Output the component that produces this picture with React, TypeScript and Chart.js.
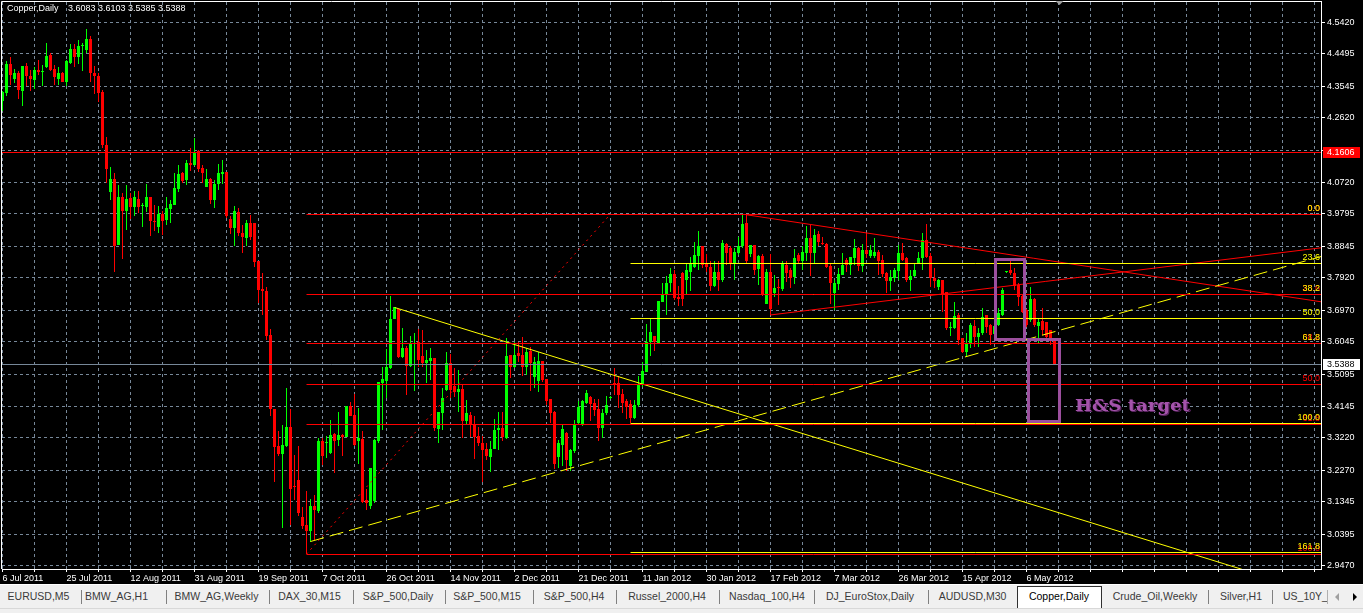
import React, { useEffect, useRef } from 'react';
import { Chart, registerables } from 'chart.js';

Chart.register(...registerables);

// ---------------- data ----------------
const symbol = 'Copper,Daily';

const opens = [
  4.312, 4.334, 4.420, 4.376, 4.394, 4.339, 4.414, 4.385, 4.373, 4.402,
  4.396, 4.412, 4.445, 4.405, 4.376, 4.392, 4.368, 4.424, 4.464, 4.439,
  4.471, 4.461, 4.493, 4.394, 4.385, 4.336, 4.182, 4.045, 4.082, 3.889,
  4.030, 3.987, 4.026, 4.001, 4.024, 4.003, 4.001, 4.030, 3.960, 3.942,
  3.978, 3.962, 3.994, 4.006, 4.052, 4.101, 4.079, 4.130, 4.123, 4.165,
  4.115, 4.060, 4.082, 4.021, 4.066, 4.097, 4.104, 3.964, 3.939, 3.986,
  3.925, 3.910, 3.954, 3.954, 3.840, 3.758, 3.753, 3.624, 3.406, 3.299,
  3.275, 3.299, 3.355, 3.180, 3.199, 3.091, 3.067, 3.050, 3.123, 3.109,
  3.314, 3.308, 3.279, 3.333, 3.316, 3.331, 3.326, 3.416, 3.390, 3.314,
  3.318, 3.140, 3.123, 3.137, 3.313, 3.482, 3.490, 3.527, 3.670, 3.701,
  3.561, 3.587, 3.534, 3.597, 3.603, 3.563, 3.543, 3.548, 3.556, 3.349,
  3.396, 3.463, 3.541, 3.475, 3.458, 3.466, 3.373, 3.388, 3.363, 3.328,
  3.308, 3.290, 3.267, 3.289, 3.344, 3.352, 3.321, 3.565, 3.529, 3.570,
  3.565, 3.529, 3.576, 3.500, 3.489, 3.548, 3.495, 3.436, 3.399, 3.267,
  3.302, 3.336, 3.240, 3.285, 3.365, 3.363, 3.424, 3.443, 3.424, 3.406,
  3.351, 3.394, 3.440, 3.484, 3.484, 3.451, 3.429, 3.422, 3.380, 3.419,
  3.478, 3.517, 3.605, 3.620, 3.600, 3.722, 3.742, 3.776, 3.803, 3.737,
  3.805, 3.786, 3.810, 3.825, 3.856, 3.884, 3.835, 3.825, 3.768, 3.810,
  3.786, 3.890, 3.879, 3.833, 3.864, 3.884, 3.952, 3.862, 3.888, 3.817,
  3.856, 3.715, 3.810, 3.747, 3.764, 3.758, 3.830, 3.815, 3.794, 3.859,
  3.842, 3.864, 3.908, 3.866, 3.921, 3.893, 3.891, 3.827, 3.747, 3.774,
  3.800, 3.844, 3.830, 3.849, 3.879, 3.827, 3.874, 3.856, 3.856, 3.869,
  3.844, 3.805, 3.784, 3.791, 3.813, 3.866, 3.851, 3.786, 3.796, 3.835,
  3.849, 3.903, 3.856, 3.791, 3.766, 3.786, 3.749, 3.644, 3.644, 3.683,
  3.615, 3.573, 3.600, 3.651, 3.619, 3.629, 3.683, 3.654, 3.627, 3.654,
  3.683, 3.808, 3.815, 3.807, 3.771, 3.739, 3.698, 3.668, 3.729, 3.651,
  3.664, 3.661, 3.639, 3.6083,
];
const highs = [
  4.339, 4.429, 4.439, 4.405, 4.400, 4.414, 4.424, 4.402, 4.412, 4.431,
  4.417, 4.482, 4.451, 4.417, 4.412, 4.395, 4.431, 4.477, 4.477, 4.490,
  4.482, 4.522, 4.503, 4.415, 4.392, 4.342, 4.204, 4.116, 4.099, 4.065,
  4.042, 4.063, 4.042, 4.047, 4.047, 4.013, 4.068, 4.030, 4.006, 4.003,
  3.989, 4.030, 4.020, 4.101, 4.123, 4.104, 4.138, 4.172, 4.201, 4.167,
  4.123, 4.111, 4.086, 4.079, 4.126, 4.138, 4.104, 3.974, 4.003, 3.996,
  3.947, 3.962, 3.977, 3.954, 3.840, 3.805, 3.764, 3.641, 3.406, 3.343,
  3.360, 3.470, 3.407, 3.272, 3.299, 3.118, 3.165, 3.142, 3.155, 3.321,
  3.321, 3.328, 3.375, 3.336, 3.399, 3.333, 3.416, 3.428, 3.451, 3.411,
  3.343, 3.172, 3.235, 3.318, 3.487, 3.529, 3.583, 3.739, 3.705, 3.701,
  3.644, 3.593, 3.621, 3.629, 3.641, 3.639, 3.580, 3.587, 3.556, 3.397,
  3.468, 3.573, 3.569, 3.527, 3.520, 3.478, 3.432, 3.399, 3.385, 3.355,
  3.328, 3.306, 3.313, 3.377, 3.398, 3.397, 3.615, 3.565, 3.603, 3.603,
  3.617, 3.585, 3.590, 3.560, 3.575, 3.548, 3.495, 3.436, 3.401, 3.316,
  3.360, 3.338, 3.290, 3.375, 3.429, 3.434, 3.463, 3.444, 3.436, 3.436,
  3.406, 3.445, 3.446, 3.527, 3.504, 3.465, 3.436, 3.432, 3.434, 3.504,
  3.546, 3.657, 3.673, 3.622, 3.724, 3.776, 3.796, 3.820, 3.815, 3.768,
  3.810, 3.832, 3.854, 3.898, 3.928, 3.884, 3.861, 3.840, 3.840, 3.840,
  3.903, 3.893, 3.884, 3.879, 3.913, 3.977, 3.975, 3.888, 3.888, 3.859,
  3.862, 3.817, 3.862, 3.800, 3.788, 3.840, 3.840, 3.820, 3.876, 3.864,
  3.884, 3.944, 3.947, 3.934, 3.930, 3.913, 3.893, 3.835, 3.786, 3.820,
  3.866, 3.849, 3.854, 3.905, 3.882, 3.891, 3.925, 3.888, 3.908, 3.874,
  3.859, 3.810, 3.815, 3.820, 3.888, 3.893, 3.854, 3.815, 3.835, 3.869,
  3.923, 3.950, 3.864, 3.820, 3.788, 3.786, 3.749, 3.663, 3.722, 3.688,
  3.615, 3.631, 3.659, 3.668, 3.644, 3.703, 3.683, 3.657, 3.660, 3.703,
  3.761, 3.812, 3.844, 3.820, 3.776, 3.742, 3.700, 3.764, 3.732, 3.673,
  3.703, 3.661, 3.639, 3.6103,
];
const lows = [
  4.283, 4.326, 4.358, 4.363, 4.317, 4.297, 4.356, 4.339, 4.345, 4.387,
  4.356, 4.407, 4.400, 4.358, 4.358, 4.366, 4.355, 4.419, 4.412, 4.420,
  4.399, 4.453, 4.368, 4.332, 4.309, 4.172, 4.070, 4.021, 3.808, 3.889,
  3.847, 3.931, 3.964, 3.972, 3.982, 3.940, 3.984, 3.916, 3.928, 3.925,
  3.918, 3.947, 3.954, 4.006, 4.045, 4.069, 4.063, 4.107, 4.120, 4.104,
  4.069, 4.060, 4.009, 3.998, 4.050, 4.067, 3.967, 3.921, 3.884, 3.915,
  3.866, 3.886, 3.903, 3.823, 3.719, 3.683, 3.610, 3.385, 3.194, 3.269,
  3.057, 3.294, 3.067, 3.140, 3.093, 3.054, 2.981, 3.018, 3.023, 3.103,
  3.243, 3.263, 3.276, 3.218, 3.297, 3.270, 3.326, 3.385, 3.299, 3.245,
  3.130, 3.111, 3.113, 3.130, 3.306, 3.346, 3.439, 3.524, 3.670, 3.556,
  3.556, 3.448, 3.529, 3.461, 3.531, 3.531, 3.482, 3.492, 3.341, 3.306,
  3.346, 3.461, 3.439, 3.443, 3.399, 3.321, 3.360, 3.326, 3.261, 3.297,
  3.194, 3.258, 3.223, 3.289, 3.287, 3.313, 3.318, 3.499, 3.527, 3.546,
  3.505, 3.507, 3.461, 3.470, 3.458, 3.487, 3.419, 3.367, 3.232, 3.235,
  3.240, 3.225, 3.225, 3.277, 3.360, 3.357, 3.422, 3.373, 3.387, 3.314,
  3.321, 3.390, 3.436, 3.448, 3.409, 3.395, 3.377, 3.367, 3.377, 3.414,
  3.473, 3.517, 3.563, 3.578, 3.600, 3.722, 3.683, 3.751, 3.727, 3.708,
  3.708, 3.745, 3.752, 3.820, 3.815, 3.820, 3.810, 3.754, 3.764, 3.754,
  3.781, 3.830, 3.815, 3.786, 3.859, 3.879, 3.835, 3.854, 3.800, 3.771,
  3.739, 3.715, 3.683, 3.737, 3.712, 3.752, 3.781, 3.761, 3.774, 3.835,
  3.815, 3.840, 3.798, 3.835, 3.884, 3.888, 3.820, 3.715, 3.698, 3.756,
  3.799, 3.810, 3.800, 3.830, 3.813, 3.810, 3.849, 3.849, 3.849, 3.800,
  3.794, 3.747, 3.754, 3.781, 3.786, 3.840, 3.781, 3.752, 3.794, 3.835,
  3.815, 3.849, 3.766, 3.761, 3.756, 3.693, 3.639, 3.620, 3.641, 3.595,
  3.571, 3.561, 3.585, 3.590, 3.588, 3.624, 3.629, 3.595, 3.620, 3.651,
  3.680, 3.806, 3.800, 3.756, 3.710, 3.690, 3.649, 3.663, 3.647, 3.602,
  3.624, 3.615, 3.595, 3.5385,
];
const closes = [
  4.336, 4.420, 4.387, 4.394, 4.342, 4.414, 4.383, 4.376, 4.402, 4.395,
  4.399, 4.443, 4.402, 4.380, 4.392, 4.368, 4.427, 4.464, 4.439, 4.473,
  4.474, 4.493, 4.394, 4.383, 4.334, 4.182, 4.112, 4.082, 3.886, 4.030,
  3.987, 4.024, 4.001, 4.028, 4.001, 4.006, 4.030, 3.960, 3.957, 3.980,
  3.960, 3.998, 4.009, 4.055, 4.097, 4.077, 4.130, 4.123, 4.159, 4.111,
  4.099, 4.082, 4.021, 4.067, 4.101, 4.104, 3.974, 3.939, 3.988, 3.923,
  3.911, 3.954, 3.911, 3.837, 3.757, 3.752, 3.620, 3.406, 3.294, 3.275,
  3.302, 3.355, 3.172, 3.177, 3.103, 3.064, 3.050, 3.121, 3.111, 3.314,
  3.270, 3.311, 3.331, 3.314, 3.331, 3.326, 3.416, 3.387, 3.300, 3.321,
  3.135, 3.130, 3.235, 3.316, 3.487, 3.494, 3.529, 3.671, 3.705, 3.559,
  3.585, 3.533, 3.598, 3.598, 3.551, 3.541, 3.551, 3.558, 3.350, 3.397,
  3.438, 3.543, 3.463, 3.458, 3.466, 3.373, 3.394, 3.360, 3.326, 3.307,
  3.287, 3.269, 3.290, 3.346, 3.352, 3.326, 3.563, 3.529, 3.565, 3.563,
  3.529, 3.575, 3.541, 3.545, 3.548, 3.492, 3.431, 3.396, 3.245, 3.308,
  3.348, 3.258, 3.287, 3.360, 3.414, 3.429, 3.455, 3.422, 3.404, 3.351,
  3.396, 3.419, 3.442, 3.481, 3.448, 3.424, 3.412, 3.380, 3.419, 3.478,
  3.519, 3.605, 3.634, 3.604, 3.724, 3.744, 3.776, 3.803, 3.732, 3.730,
  3.730, 3.815, 3.835, 3.859, 3.884, 3.830, 3.823, 3.768, 3.810, 3.786,
  3.893, 3.864, 3.835, 3.869, 3.884, 3.950, 3.842, 3.888, 3.815, 3.856,
  3.742, 3.810, 3.700, 3.763, 3.761, 3.833, 3.807, 3.791, 3.849, 3.840,
  3.869, 3.908, 3.864, 3.918, 3.898, 3.890, 3.825, 3.776, 3.776, 3.803,
  3.830, 3.830, 3.852, 3.879, 3.827, 3.874, 3.862, 3.874, 3.869, 3.842,
  3.803, 3.784, 3.794, 3.815, 3.866, 3.844, 3.786, 3.798, 3.815, 3.851,
  3.903, 3.854, 3.791, 3.783, 3.786, 3.742, 3.644, 3.649, 3.680, 3.610,
  3.573, 3.600, 3.654, 3.619, 3.631, 3.676, 3.649, 3.624, 3.651, 3.688,
  3.757, 3.811, 3.805, 3.768, 3.737, 3.693, 3.654, 3.729, 3.654, 3.661,
  3.639, 3.619, 3.610, 3.5388,
];

const dateLabels = [
  '6 Jul 2011', '25 Jul 2011', '12 Aug 2011', '31 Aug 2011', '19 Sep 2011',
  '7 Oct 2011', '26 Oct 2011', '14 Nov 2011', '2 Dec 2011', '21 Dec 2011',
  '11 Jan 2012', '30 Jan 2012', '17 Feb 2012', '7 Mar 2012', '26 Mar 2012',
  '15 Apr 2012', '6 May 2012',
];
const barsPerDateLabel = 16;
const barsPerGridLine = 8;

const priceTicks = [
  4.5420, 4.4495, 4.3545, 4.2620, 4.1670, 4.0720, 3.9795, 3.8845, 3.7920,
  3.6970, 3.6045, 3.5095, 3.4145, 3.3220, 3.2270, 3.1345, 3.0395, 2.9470,
];

const resistanceLevel = 4.1606;
const bidPrice = closes[closes.length - 1];

// fibonacci tools: [bar, price] anchors (low, high)
const redFibLow = [76, 2.981];
const redFibHigh = [152, 3.979];
const redFibLevels = [0, 23.6, 38.2, 50, 61.8, 100];
const yellowFibLow = [157, 3.365];
const yellowFibHigh = [186, 3.979];
const yellowFibLevels = [0, 23.6, 38.2, 50, 61.8, 100, 161.8];

// trend lines: two [bar, price] anchors each, extended to the right
const downTrend = [[98, 3.705], [184, 3.393]];
const upTrendDashed = [[77, 3.018], [241, 3.561]];
const triangleTop = [[186, 3.977], [231, 3.897]];
const triangleBottom = [[192, 3.683], [236, 3.746]];

// head & shoulders measured move
const hsHeadBars = [248, 255.3];
const hsTargetBars = [256.25, 264.1];
const hsHead = 3.847;
const hsNeckline = 3.611;
const hsTarget = 3.373;
const hsLabel = 'H&S target';
const hsLabelAnchor = [268.1, 3.401];

const tabNames = [
  'EURUSD,M5', 'BMW_AG,H1', 'BMW_AG,Weekly', 'DAX_30,M15', 'S&P_500,Daily',
  'S&P_500,M15', 'S&P_500,H4', 'Russel_2000,H4', 'Nasdaq_100,H4',
  'DJ_EuroStox,Daily', 'AUDUSD,M30', 'Copper,Daily', 'Crude_Oil,Weekly',
  'Silver,H1', 'US_10Y_',
];
const activeTab = 'Copper,Daily';

// ---------------- layout / style ----------------
const W = 1363;
const CANVAS_H = 584;
const X_MIN = -0.125;
const X_MAX = 329.625;
const Y_MIN = 2.93733;
const Y_MAX = 4.60158;
const FONT = '"Liberation Sans", Arial, sans-serif';
const UP = '#00ff00';
const DOWN = '#ff0000';
const RED = '#ff0000';
const YELLOW = '#ffff00';
const GRID = '#778899';
const PURPLE = '#9c4f9e';

const tabCenters = [38.5, 116.5, 216.5, 309.5, 398, 487, 574, 667, 767, 870, 972.5, 1059, 1155, 1241];
const tabSeparators = [81, 166, 269, 353, 445, 533, 616, 719, 814, 928, 1208, 1272];

const candleColors = closes.map((c, i) => (c >= opens[i] ? UP : DOWN));

function ray(anchors: number[][], xEnd: number) {
  const [[xa, ya], [xb, yb]] = anchors;
  return [
    { x: xa, y: ya },
    { x: xEnd, y: ya + ((yb - ya) * (xEnd - xa)) / (xb - xa) },
  ];
}
function hline(x0: number, p: number) {
  return [{ x: x0, y: p }, { x: X_MAX, y: p }];
}
function fibPrice(low: number, high: number, lvl: number) {
  return high - ((high - low) * lvl) / 100;
}

function lineDs(data: any[], color: string, dash: number[] = [], flat = true) {
  return {
    type: 'line' as const,
    data,
    borderColor: color,
    borderWidth: 1,
    borderDash: dash,
    pointRadius: 0,
    fill: false,
    tension: 0,
    order: 0,
    snapFlat: flat,
  };
}

const overlayPlugin = {
  id: 'mt4Overlay',
  beforeDraw(chart: any) {
    const { ctx, width, height } = chart;
    ctx.save();
    ctx.fillStyle = '#000';
    ctx.fillRect(0, 0, width, height);
    ctx.restore();
  },
  beforeDatasetsDraw(chart: any) {
    // snap marks to the pixel grid so 1px lines and candle edges stay crisp
    chart.data.datasets.forEach((ds: any, i: number) => {
      const meta = chart.getDatasetMeta(i);
      if (meta.type === 'line' && ds.snapFlat) {
        meta.data.forEach((pt: any) => {
          pt.y = Math.floor(pt.y) + 0.5;
        });
      } else if (meta.type === 'bar') {
        meta.data.forEach((b: any) => {
          let top = Math.round(b.y);
          let base = Math.round(b.base);
          if (top === base) base = top + 1;
          b.y = top;
          b.base = base;
        });
      }
    });
  },
  afterDatasetsDraw(chart: any) {
    const { ctx, chartArea: a, scales } = chart;
    const xs = scales.x;
    const ys = scales.y;
    ctx.save();
    // fib labels
    ctx.font = `9px ${FONT}`;
    ctx.textAlign = 'right';
    ctx.textBaseline = 'bottom';
    ctx.fillStyle = RED;
    redFibLevels.forEach((l) => {
      const py = Math.floor(ys.getPixelForValue(fibPrice(redFibLow[1], redFibHigh[1], l)));
      ctx.fillText(l.toFixed(1), a.right - 1, py - 1);
    });
    ctx.fillStyle = YELLOW;
    yellowFibLevels.forEach((l) => {
      const py = Math.floor(ys.getPixelForValue(fibPrice(yellowFibLow[1], yellowFibHigh[1], l)));
      ctx.fillText(l.toFixed(1), a.right - 1, py - 1);
    });

    // H&S rectangles
    ctx.strokeStyle = PURPLE;
    ctx.lineWidth = 3;
    const rect = (bx: number[], top: number, bottom: number) => {
      const x0 = Math.round(xs.getPixelForValue(bx[0])) + 0.5;
      const x1 = Math.round(xs.getPixelForValue(bx[1])) + 0.5;
      const y0 = Math.round(ys.getPixelForValue(top)) + 0.5;
      const y1 = Math.round(ys.getPixelForValue(bottom)) + 0.5;
      ctx.strokeRect(x0, y0, x1 - x0, y1 - y0);
    };
    rect(hsHeadBars, hsHead, hsNeckline);
    rect(hsTargetBars, hsNeckline, hsTarget);

    // H&S text
    ctx.font = `bold 16px "DejaVu Serif", serif`;
    ctx.textAlign = 'left';
    ctx.textBaseline = 'alphabetic';
    const tw = ctx.measureText(hsLabel).width;
    const tx = xs.getPixelForValue(hsLabelAnchor[0]);
    const ty = ys.getPixelForValue(hsLabelAnchor[1]);
    ctx.save();
    ctx.translate(tx, ty);
    ctx.scale(115 / tw, 1);
    ctx.fillStyle = '#5a2560';
    ctx.fillText(hsLabel, 1, 1);
    ctx.fillStyle = '#a453ab';
    ctx.fillText(hsLabel, 0, 0);
    ctx.restore();
    ctx.restore();
  },
  afterDraw(chart: any) {
    const { ctx, chartArea: a, scales } = chart;
    const xs = scales.x;
    const ys = scales.y;
    ctx.save();
    // frame top / left
    ctx.strokeStyle = '#ffffff';
    ctx.lineWidth = 1;
    ctx.beginPath();
    ctx.moveTo(1.5, a.bottom);
    ctx.lineTo(1.5, 1.5);
    ctx.lineTo(a.right + 1, 1.5);
    ctx.stroke();

    // price boxes on axis
    const box = (p: number, bg: string, fg: string) => {
      const py = Math.round(ys.getPixelForValue(p));
      ctx.fillStyle = bg;
      ctx.fillRect(a.right + 2, py - 5, 37, 11);
      ctx.fillStyle = fg;
      ctx.font = `9px ${FONT}`;
      ctx.textAlign = 'left';
      ctx.textBaseline = 'middle';
      ctx.fillText(p.toFixed(4), a.right + 6, py + 0.5);
    };
    box(resistanceLevel, RED, '#ffffff');
    box(bidPrice, '#ffffff', '#000000');

    // header
    const last = closes.length - 1;
    ctx.fillStyle = '#ffffff';
    ctx.font = `9px ${FONT}`;
    ctx.textAlign = 'left';
    ctx.textBaseline = 'top';
    ctx.fillText(symbol, 7, 4);
    ctx.fillText(
      [opens[last], highs[last], lows[last], closes[last]].map((v) => v.toFixed(4)).join(' '),
      68,
      4
    );

    // chart shift marker
    const sx = Math.round(xs.getPixelForValue(closes.length)) + 0.5;
    ctx.fillStyle = '#a0a0a0';
    ctx.beginPath();
    ctx.moveTo(sx - 4, 1);
    ctx.lineTo(sx + 4, 1);
    ctx.lineTo(sx, 5);
    ctx.closePath();
    ctx.fill();
    ctx.restore();
  },
};

export default function App() {
  const ref = useRef<HTMLCanvasElement | null>(null);

  useEffect(() => {
    if (!ref.current) return;
    Chart.defaults.font.family = FONT;

    const wickData = highs.map((h, i) => ({ x: i, y: [lows[i], h] }));
    const bodyData = opens.map((o, i) => ({ x: i, y: [o, closes[i]] }));

    const datasets: any[] = [
      lineDs(hline(X_MIN, resistanceLevel), RED),
      lineDs(hline(X_MIN, bidPrice), GRID),
      ...redFibLevels.map((l) => lineDs(hline(redFibLow[0], fibPrice(redFibLow[1], redFibHigh[1], l)), RED)),
      ...yellowFibLevels.map((l) =>
        lineDs(hline(yellowFibLow[0], fibPrice(yellowFibLow[1], yellowFibHigh[1], l)), YELLOW)
      ),
      lineDs(
        [
          { x: redFibLow[0], y: redFibLow[1] },
          { x: redFibHigh[0], y: redFibHigh[1] },
        ],
        RED,
        [2, 4],
        false
      ),
      lineDs(ray(downTrend, X_MAX), YELLOW, [], false),
      lineDs(ray(upTrendDashed, X_MAX), YELLOW, [14, 6], false),
      lineDs(ray(triangleTop, X_MAX), RED, [], false),
      lineDs(ray(triangleBottom, X_MAX), RED, [], false),
      {
        type: 'bar',
        data: bodyData,
        backgroundColor: candleColors,
        barThickness: 3,
        grouped: false,
        minBarLength: 1,
        inflateAmount: 0,
        borderWidth: 0,
        order: 19,
      },
      {
        type: 'bar',
        data: wickData,
        backgroundColor: candleColors,
        barThickness: 1,
        grouped: false,
        inflateAmount: 0,
        borderWidth: 0,
        order: 20,
      },
    ];

    const chart = new Chart(ref.current, {
      type: 'bar',
      data: { datasets },
      plugins: [overlayPlugin],
      options: {
        animation: false,
        responsive: false,
        devicePixelRatio: 1,
        events: [],
        layout: { padding: { left: 2, top: 2, right: 0, bottom: 0 } },
        plugins: { legend: { display: false }, tooltip: { enabled: false } },
        scales: {
          x: {
            type: 'linear',
            min: X_MIN,
            max: X_MAX,
            offset: false,
            afterBuildTicks: (s: any) => {
              const t: any[] = [];
              for (let v = 0; v <= X_MAX; v += barsPerGridLine) t.push({ value: v });
              s.ticks = t;
            },
            afterFit: (s: any) => {
              s.height = CANVAS_H - 569;
              s.paddingLeft = 0;
              s.paddingRight = 0;
            },
            ticks: {
              autoSkip: false,
              maxRotation: 0,
              minRotation: 0,
              align: 'start',
              padding: 1,
              color: '#ffffff',
              font: { size: 9, family: FONT },
              callback: (v: any) => {
                const k = Number(v) / barsPerDateLabel;
                return Number.isInteger(k) && k < dateLabels.length ? dateLabels[k] : '';
              },
            },
            grid: { color: GRID, tickColor: '#ffffff', tickLength: 3, tickBorderDash: [], offset: false },
            border: { display: true, color: '#ffffff', dash: [3, 3] },
          },
          y: {
            type: 'linear',
            position: 'right',
            min: Y_MIN,
            max: Y_MAX,
            afterBuildTicks: (s: any) => {
              s.ticks = [...priceTicks].reverse().map((v) => ({ value: v }));
            },
            afterFit: (s: any) => {
              s.width = 42;
              s.paddingTop = 0;
              s.paddingBottom = 0;
            },
            ticks: {
              autoSkip: false,
              padding: 2,
              color: '#ffffff',
              font: { size: 9, family: FONT },
              callback: (v: any) => Number(v).toFixed(4),
            },
            grid: { color: GRID, tickColor: '#ffffff', tickLength: 4, tickBorderDash: [] },
            border: { display: true, color: '#ffffff', dash: [3, 3] },
          },
        },
      } as any,
    });
    return () => chart.destroy();
  }, []);

  const activeIdx = tabNames.indexOf(activeTab);

  return (
    <div
      style={{
        position: 'fixed',
        left: 0,
        top: 0,
        width: W,
        height: 613,
        background: '#f0f0f0',
        overflow: 'hidden',
        fontFamily: FONT,
      }}
    >
      <canvas
        ref={ref}
        width={W}
        height={CANVAS_H}
        style={{ display: 'block', width: W, height: CANVAS_H, background: '#000' }}
      />
      <div style={{ position: 'absolute', left: 0, top: CANVAS_H, width: W, height: 1, background: '#ffffff' }} />
      <div
        style={{
          position: 'absolute',
          left: 1017,
          top: 586,
          width: 83,
          height: 21,
          background: '#ffffff',
          borderTop: '1px solid #303030',
          borderLeft: '1px solid #303030',
          borderRight: '1px solid #303030',
        }}
      />
      {tabSeparators.map((sx) => (
        <div key={sx} style={{ position: 'absolute', left: sx, top: 590, width: 1, height: 14, background: '#808080' }} />
      ))}
      {tabNames.map((name, i) => {
        const isLast = i === tabNames.length - 1;
        const style: React.CSSProperties = isLast
          ? { position: 'absolute', left: 1283, top: 590, width: 44, overflow: 'hidden', whiteSpace: 'nowrap' }
          : {
              position: 'absolute',
              left: tabCenters[i],
              top: 590,
              transform: 'translateX(-50%)',
              whiteSpace: 'nowrap',
            };
        return (
          <div
            key={name}
            style={{
              ...style,
              fontSize: 10.5,
              lineHeight: '13px',
              color: i === activeIdx ? '#000000' : '#3a3a3a',
            }}
          >
            {name}
          </div>
        );
      })}
      <div style={{ position: 'absolute', left: 1327, top: 590, width: 1, height: 14, background: '#b0b0b0' }} />
      <div
        style={{
          position: 'absolute',
          left: 1335,
          top: 593,
          width: 0,
          height: 0,
          borderTop: '4px solid transparent',
          borderBottom: '4px solid transparent',
          borderRight: '4px solid #a0a0a0',
        }}
      />
      <div
        style={{
          position: 'absolute',
          left: 1353,
          top: 593,
          width: 0,
          height: 0,
          borderTop: '4px solid transparent',
          borderBottom: '4px solid transparent',
          borderLeft: '4px solid #000000',
        }}
      />
      <div style={{ position: 'absolute', left: 0, top: 608, width: W, height: 5, borderTop: '1px solid #d8d8d8' }} />
    </div>
  );
}
